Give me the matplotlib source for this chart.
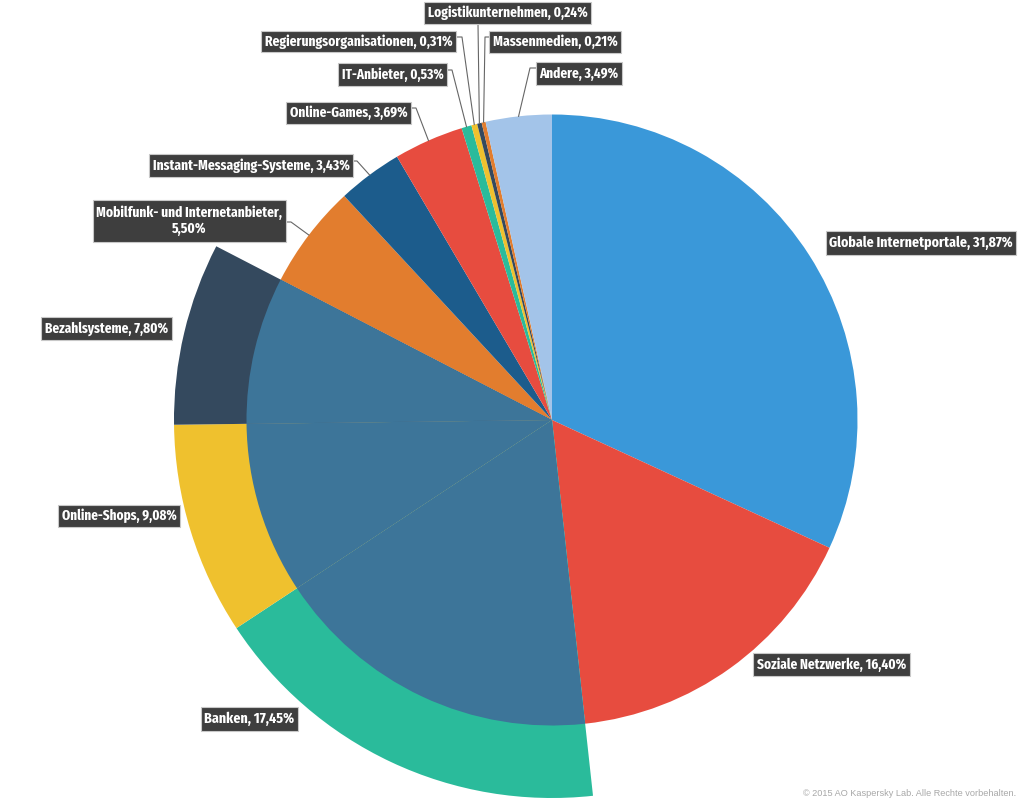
import logging
import matplotlib
matplotlib.use('Agg')
import matplotlib.pyplot as plt
from matplotlib.patches import Rectangle, Wedge
import numpy as np

logging.getLogger('matplotlib.font_manager').setLevel(logging.ERROR)

categories = ['Globale Internetportale', 'Soziale Netzwerke', 'Banken', 'Online-Shops',
              'Bezahlsysteme', 'Mobilfunk- und Internetanbieter', 'Instant-Messaging-Systeme',
              'Online-Games', 'IT-Anbieter', 'Regierungsorganisationen', 'Logistikunternehmen',
              'Massenmedien', 'Andere']
shares = [31.87, 16.40, 17.45, 9.08, 7.80, 5.50, 3.43, 3.69, 0.53, 0.31, 0.24, 0.21, 3.49]
colors = ['#3a98d9', '#e74c3f', '#2abb9b', '#efc12e', '#34495e', '#e27d2e', '#1c5c8c',
          '#e74c3f', '#2abb9b', '#efc12e', '#34495e', '#e27d2e', '#a3c4e9']
highlighted = ['Banken', 'Online-Shops', 'Bezahlsysteme']

# label boxes in pixels from the top left: x0, x1, y0, y1
boxes = [(826, 1016, 231, 255), (753, 910, 653, 676), (201, 298, 707, 731), (58, 180, 505, 527),
         (41, 172, 317, 340), (93, 286, 200, 242), (149, 353, 154, 177), (286, 411, 102, 124),
         (338, 447, 63, 86), (261, 456, 31, 52), (424, 591, 2, 24), (489, 621, 31, 53),
         (536, 622, 62, 85)]
# leader lines: start on the box, elbow; the end is found from the slice
leaders = {5: (286, 222, 291, 222), 6: (353, 161, 357, 161), 7: (411, 108, 416, 108),
           8: (447, 70, 452, 70), 9: (456, 37, 462, 37), 10: (478, 24, 478, 24),
           11: (489, 37, 485, 37), 12: (536, 68, 530, 68)}

W, H = 1024, 805
cx, cy = 552, H - 420
R = 305.5
R_out = 378

label_fonts = ['Fira Sans Extra Condensed', 'PT Sans Narrow', 'Barlow Condensed', 'Roboto', 'DejaVu Sans']

fig = plt.figure(figsize=(W / 100, H / 100), dpi=100)
ax = fig.add_axes([0, 0, 1, 1])

wedges, _ = ax.pie(shares, colors=colors, startangle=90, counterclock=False,
                   center=(cx, cy), radius=R, frame=True)

# the three pulled out sectors get a bigger radius and a blue-grey part on top
for w, name in zip(wedges, categories):
    if name in highlighted:
        w.set_radius(R_out)
        ax.add_patch(Wedge((cx, cy), R, w.theta1, w.theta2, facecolor='#3d7599', edgecolor='none', zorder=3))

ax.set_xlim(0, W)
ax.set_ylim(0, H)
ax.set_aspect('equal')
ax.axis('off')

renderer = fig.canvas.get_renderer()


def fit_width(t, width):
    # shrink or grow the font so the text has the same width as in the reference
    t.set_fontsize(t.get_fontsize() * width / t.get_window_extent(renderer).width)


for i, name in enumerate(categories):
    x0, x1, y0, y1 = boxes[i]
    ax.add_patch(Rectangle((x0, H - y1), x1 - x0, y1 - y0, facecolor='#3e3e3e',
                           edgecolor='#c8c8c8', linewidth=0.8, zorder=6))
    pct = f'{shares[i]:.2f}'.replace('.', ',') + '%'
    if i == 5:
        label = f'{name},\n{pct}'
    else:
        label = f'{name}, {pct}'
    t = ax.text((x0 + x1) / 2, H - (y0 + y1) / 2, label, color='white', fontsize=12,
                family=label_fonts, fontweight='bold', ha='center', va='center',
                linespacing=1.2, zorder=7)
    fit_width(t, x1 - x0 - 7)

for i, (xa, ya, xb, yb) in leaders.items():
    ang = np.radians((wedges[i].theta1 + wedges[i].theta2) / 2)
    xe = cx + R * np.cos(ang)
    ye = cy + R * np.sin(ang)
    ax.plot([xa, xb, xe], [H - ya, H - yb, ye], color='#666666', lw=0.8, zorder=5)

note = ax.text(1016, H - 793, '© 2015 AO Kaspersky Lab. Alle Rechte vorbehalten.', color='#a8a8a8',
               fontsize=6.6, family='Liberation Sans', ha='right', va='center')
fit_width(note, 211)

fig.savefig('out.png', dpi=100, facecolor='white')
